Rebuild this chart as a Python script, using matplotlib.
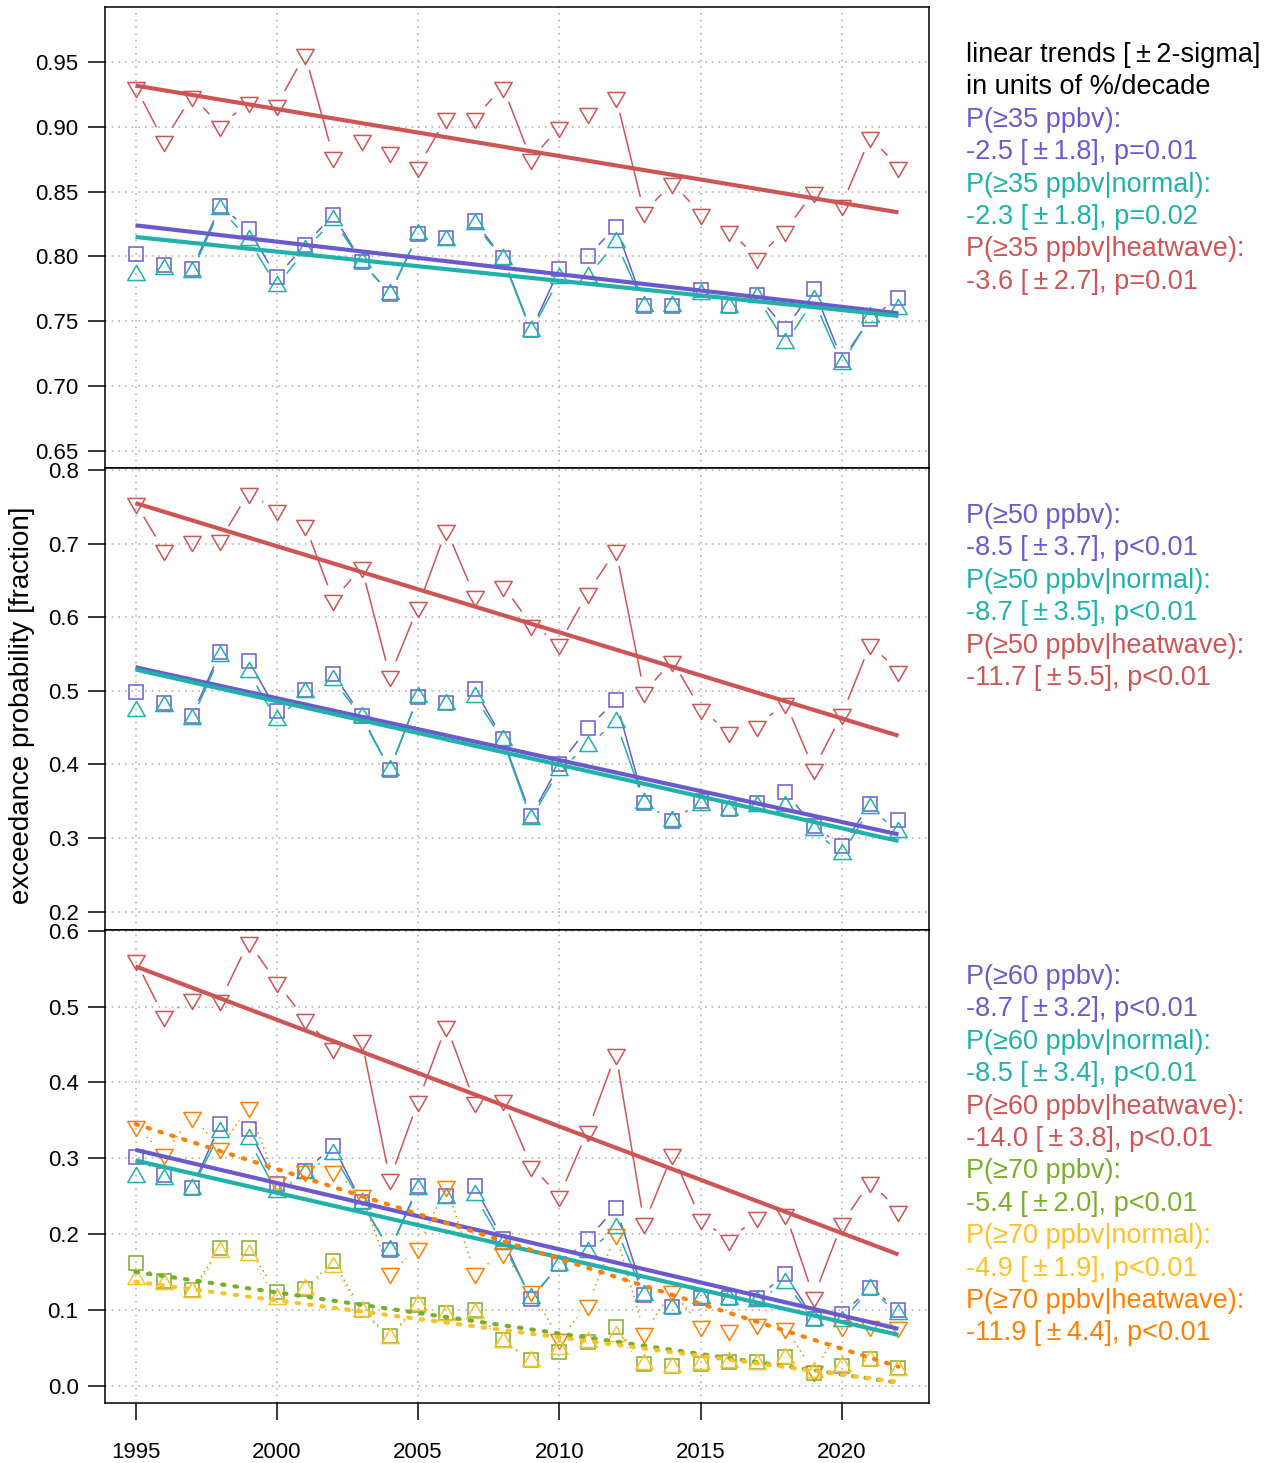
"""Exceedance probabilities of ozone thresholds, 1995-2022, with linear trends."""

import matplotlib

matplotlib.use("Agg")
import matplotlib.pyplot as plt  # noqa: E402
import numpy as np  # noqa: E402
from matplotlib.path import Path  # noqa: E402

C_ALL = "#6A5ACD"
C_NORM = "#20B2AA"
C_HEAT = "#CD5555"
C_ALL70 = "#79AE2C"
C_NORM70 = "#FFC125"
C_HEAT70 = "#FF7F00"

plt.rcParams.update(
    {
        "font.family": ["Liberation Sans", "DejaVu Sans"],
        "axes.linewidth": 1.1,
        "xtick.major.width": 1.1,
        "ytick.major.width": 1.1,
    }
)

# --- data --------------------------------------------------------------------

years = [1995, 1996, 1997, 1998, 1999, 2000, 2001, 2002, 2003, 2004,
         2005, 2006, 2007, 2008, 2009, 2010, 2011, 2012, 2013, 2014,
         2015, 2016, 2017, 2018, 2019, 2020, 2021, 2022]

p35_all = [0.802, 0.793, 0.790, 0.839, 0.821, 0.784, 0.809, 0.832, 0.796, 0.771,
           0.817, 0.814, 0.827, 0.799, 0.743, 0.790, 0.800, 0.823, 0.762, 0.762,
           0.774, 0.762, 0.770, 0.744, 0.775, 0.720, 0.752, 0.768]
p35_norm = [0.786, 0.790, 0.788, 0.837, 0.813, 0.777, 0.805, 0.828, 0.796, 0.771,
            0.817, 0.813, 0.825, 0.798, 0.742, 0.783, 0.784, 0.811, 0.762, 0.762,
            0.771, 0.761, 0.769, 0.733, 0.766, 0.717, 0.753, 0.759]
p35_heat = [0.931, 0.889, 0.924, 0.901, 0.919, 0.917, 0.956, 0.877, 0.890, 0.881,
            0.869, 0.907, 0.907, 0.931, 0.875, 0.900, 0.911, 0.923, 0.834, 0.857,
            0.833, 0.820, 0.799, 0.820, 0.850, 0.840, 0.892, 0.869]

p50_all = [0.499, 0.484, 0.466, 0.553, 0.541, 0.473, 0.501, 0.523, 0.466, 0.393,
           0.492, 0.484, 0.502, 0.435, 0.330, 0.400, 0.449, 0.487, 0.348, 0.323,
           0.350, 0.339, 0.348, 0.362, 0.316, 0.289, 0.346, 0.324]
p50_norm = [0.473, 0.480, 0.462, 0.548, 0.526, 0.460, 0.498, 0.515, 0.464, 0.393,
            0.492, 0.482, 0.492, 0.433, 0.326, 0.393, 0.425, 0.458, 0.348, 0.323,
            0.345, 0.338, 0.343, 0.343, 0.311, 0.278, 0.341, 0.308]
p50_heat = [0.755, 0.691, 0.703, 0.705, 0.769, 0.745, 0.725, 0.623, 0.668, 0.520,
            0.614, 0.719, 0.629, 0.643, 0.590, 0.564, 0.633, 0.691, 0.498, 0.541,
            0.475, 0.444, 0.452, 0.484, 0.394, 0.468, 0.563, 0.527]

p60_all = [0.302, 0.278, 0.261, 0.345, 0.338, 0.266, 0.283, 0.316, 0.242, 0.179,
           0.263, 0.250, 0.263, 0.193, 0.114, 0.160, 0.193, 0.235, 0.120, 0.104,
           0.116, 0.116, 0.116, 0.147, 0.088, 0.094, 0.129, 0.100]
p60_norm = [0.275, 0.273, 0.260, 0.334, 0.325, 0.255, 0.280, 0.305, 0.241, 0.179,
            0.260, 0.248, 0.251, 0.187, 0.116, 0.159, 0.176, 0.208, 0.119, 0.103,
            0.116, 0.115, 0.112, 0.136, 0.087, 0.085, 0.128, 0.094]
p60_heat = [0.561, 0.487, 0.510, 0.508, 0.585, 0.532, 0.483, 0.445, 0.456, 0.272,
            0.375, 0.475, 0.374, 0.377, 0.290, 0.250, 0.336, 0.438, 0.214, 0.305,
            0.220, 0.192, 0.222, 0.227, 0.117, 0.214, 0.269, 0.231]

p70_all = [0.162, 0.138, 0.126, 0.182, 0.182, 0.123, 0.128, 0.164, 0.100, 0.065,
           0.107, 0.096, 0.100, 0.060, 0.034, 0.045, 0.058, 0.078, 0.029, 0.026,
           0.029, 0.031, 0.031, 0.038, 0.017, 0.026, 0.035, 0.023]
p70_norm = [0.141, 0.134, 0.124, 0.176, 0.172, 0.115, 0.127, 0.156, 0.098, 0.063,
            0.106, 0.093, 0.096, 0.058, 0.033, 0.048, 0.057, 0.066, 0.028, 0.025,
            0.028, 0.031, 0.028, 0.037, 0.018, 0.026, 0.034, 0.021]
p70_heat = [0.343, 0.305, 0.355, 0.314, 0.367, 0.268, 0.283, 0.283, 0.252, 0.148,
            0.182, 0.264, 0.148, 0.175, 0.125, 0.062, 0.106, 0.200, 0.070, 0.125,
            0.079, 0.073, 0.081, 0.076, 0.019, 0.079, 0.079, 0.078]

# trend line values at 1995 and 2022
trend_years = [1995, 2022]
t35_all, t35_norm, t35_heat = [0.824, 0.756], [0.815, 0.754], [0.932, 0.834]
t50_all, t50_norm, t50_heat = [0.532, 0.305], [0.529, 0.296], [0.755, 0.439]
t60_all, t60_norm, t60_heat = [0.311, 0.075], [0.297, 0.067], [0.553, 0.173]
t70_all, t70_norm, t70_heat = [0.150, 0.004], [0.137, 0.005], [0.345, 0.025]

# trend annotations: threshold, slope (%/decade), 2-sigma, p-value text
thresholds = [35, 50, 60, 70]
slope_all = ["-2.5", "-8.5", "-8.7", "-5.4"]
sig_all = ["1.8", "3.7", "3.2", "2.0"]
pv_all = ["p=0.01", "p<0.01", "p<0.01", "p<0.01"]
slope_norm = ["-2.3", "-8.7", "-8.5", "-4.9"]
sig_norm = ["1.8", "3.5", "3.4", "1.9"]
pv_norm = ["p=0.02", "p<0.01", "p<0.01", "p<0.01"]
slope_heat = ["-3.6", "-11.7", "-14.0", "-11.9"]
sig_heat = ["2.7", "5.5", "3.8", "4.4"]
pv_heat = ["p=0.01", "p<0.01", "p<0.01", "p<0.01"]

# --- markers (R-style equilateral triangles) ---------------------------------

TRI_DOWN = Path([(0, -1.555), (1.347, 0.778), (-1.347, 0.778), (0, 0)], closed=True)
TRI_UP = Path([(0, 1.555), (1.347, -0.778), (-1.347, -0.778), (0, 0)], closed=True)
MS_TRI = 14.5
MS_SQ = 9.4

W, H = 1269, 1463
fig = plt.figure(figsize=(W / 100, H / 100), dpi=100)


def px_axes(x0, y0, x1, y1):
    return fig.add_axes([x0 / W, 1 - y1 / H, (x1 - x0) / W, (y1 - y0) / H])


def gapped_line(ax, x, y, color, ls="-", lw=1.1, gap=16.0):
    """Connect points like R's type='b': leave a gap around each point."""
    pts = ax.transData.transform(np.column_stack([x, y]))
    inv = ax.transData.inverted()
    for p0, p1 in zip(pts[:-1], pts[1:]):
        d = p1 - p0
        length = np.hypot(*d)
        if length <= 2 * gap + 1:
            continue
        u = d / length
        a = inv.transform(p0 + u * gap)
        b = inv.transform(p1 - u * gap)
        ax.plot([a[0], b[0]], [a[1], b[1]], color=color, ls=ls, lw=lw,
                solid_capstyle="butt", zorder=2)


def series(ax, y, color, marker, ls="-"):
    ms = MS_SQ if marker == "s" else MS_TRI
    gapped_line(ax, years, y, color, ls=ls)
    ax.plot(years, y, ls="none", marker=marker, ms=ms, mfc="none", mec=color,
            mew=1.1, zorder=3)


def trend(ax, y, color, dotted=False):
    if dotted:
        ax.plot(trend_years, y, color=color, lw=3.0, ls=(0, (0.6, 2.4)),
                dash_capstyle="round", zorder=4)
    else:
        ax.plot(trend_years, y, color=color, lw=3.0, solid_capstyle="butt", zorder=4)


def setup(ax, ylim, yticks, fmt, bottom=False):
    ax.set_xlim(1993.92, 2023.08)
    ax.set_ylim(*ylim)
    ax.set_xticks([1995, 2000, 2005, 2010, 2015, 2020])
    ax.set_yticks(yticks)
    ax.set_yticklabels([fmt.format(v) for v in yticks])
    ax.grid(True, color="#B4B4B4", ls=(0, (1, 3)), lw=1.2)
    ax.set_axisbelow(True)
    ax.tick_params(axis="y", direction="out", length=12, pad=7, labelsize=16)
    if bottom:
        ax.tick_params(axis="x", direction="out", length=12, pad=16, labelsize=16)
    else:
        ax.tick_params(axis="x", bottom=False, labelbottom=False)


ax_top = px_axes(105, 7, 929, 468)
ax_mid = px_axes(105, 468, 929, 929.5)
ax_bot = px_axes(105, 929.5, 929, 1402.7)

setup(ax_top, (0.6365, 0.9927), [0.65, 0.70, 0.75, 0.80, 0.85, 0.90, 0.95], "{:.2f}")
setup(ax_mid, (0.1758, 0.8027), [0.2, 0.3, 0.4, 0.5, 0.6, 0.7, 0.8], "{:.1f}")
setup(ax_bot, (-0.0224, 0.6016), [0.0, 0.1, 0.2, 0.3, 0.4, 0.5, 0.6], "{:.1f}", bottom=True)

for ax, s_all, s_norm, s_heat, tr_all, tr_norm, tr_heat in [
    (ax_top, p35_all, p35_norm, p35_heat, t35_all, t35_norm, t35_heat),
    (ax_mid, p50_all, p50_norm, p50_heat, t50_all, t50_norm, t50_heat),
    (ax_bot, p60_all, p60_norm, p60_heat, t60_all, t60_norm, t60_heat),
]:
    series(ax, s_heat, C_HEAT, TRI_DOWN)
    series(ax, s_all, C_ALL, "s")
    series(ax, s_norm, C_NORM, TRI_UP)
    if ax is ax_bot:
        series(ax, p70_heat, C_HEAT70, TRI_DOWN, ls=(0, (1, 2.5)))
        series(ax, p70_all, C_ALL70, "s", ls=(0, (1, 2.5)))
        series(ax, p70_norm, C_NORM70, TRI_UP, ls=(0, (1, 2.5)))
    trend(ax, tr_heat, C_HEAT)
    trend(ax, tr_all, C_ALL)
    trend(ax, tr_norm, C_NORM)

trend(ax_bot, t70_heat, C_HEAT70, dotted=True)
trend(ax_bot, t70_all, C_ALL70, dotted=True)
trend(ax_bot, t70_norm, C_NORM70, dotted=True)

fig.text(22 / W, 1 - 705 / H, "exceedance probability [fraction]", rotation=90,
         ha="center", va="center", fontsize=20)

# --- trend annotations on the right ------------------------------------------

PM = "[\u2009\u00b1\u2009"


def block(k, colors):
    out = []
    groups = [("", slope_all, sig_all, pv_all), ("|normal", slope_norm, sig_norm, pv_norm),
              ("|heatwave", slope_heat, sig_heat, pv_heat)]
    for (suffix, sl, sg, pv), c in zip(groups, colors):
        out.append((f"P(\u2265{thresholds[k]} ppbv{suffix}):", c))
        out.append((f"{sl[k]} {PM}{sg[k]}], {pv[k]}", c))
    return out


LINE = 32.4
blocks = [
    (55, [("linear trends " + PM + "2-sigma]", "black"), ("in units of %/decade", "black")]
     + block(0, [C_ALL, C_NORM, C_HEAT])),
    (516, block(1, [C_ALL, C_NORM, C_HEAT])),
    (977, block(2, [C_ALL, C_NORM, C_HEAT]) + block(3, [C_ALL70, C_NORM70, C_HEAT70])),
]
for y0, lines in blocks:
    for i, (txt, col) in enumerate(lines):
        fig.text(966 / W, 1 - (y0 + i * LINE) / H, txt, color=col, fontsize=19.5,
                 ha="left", va="center")

fig.savefig("out.png", dpi=100)
